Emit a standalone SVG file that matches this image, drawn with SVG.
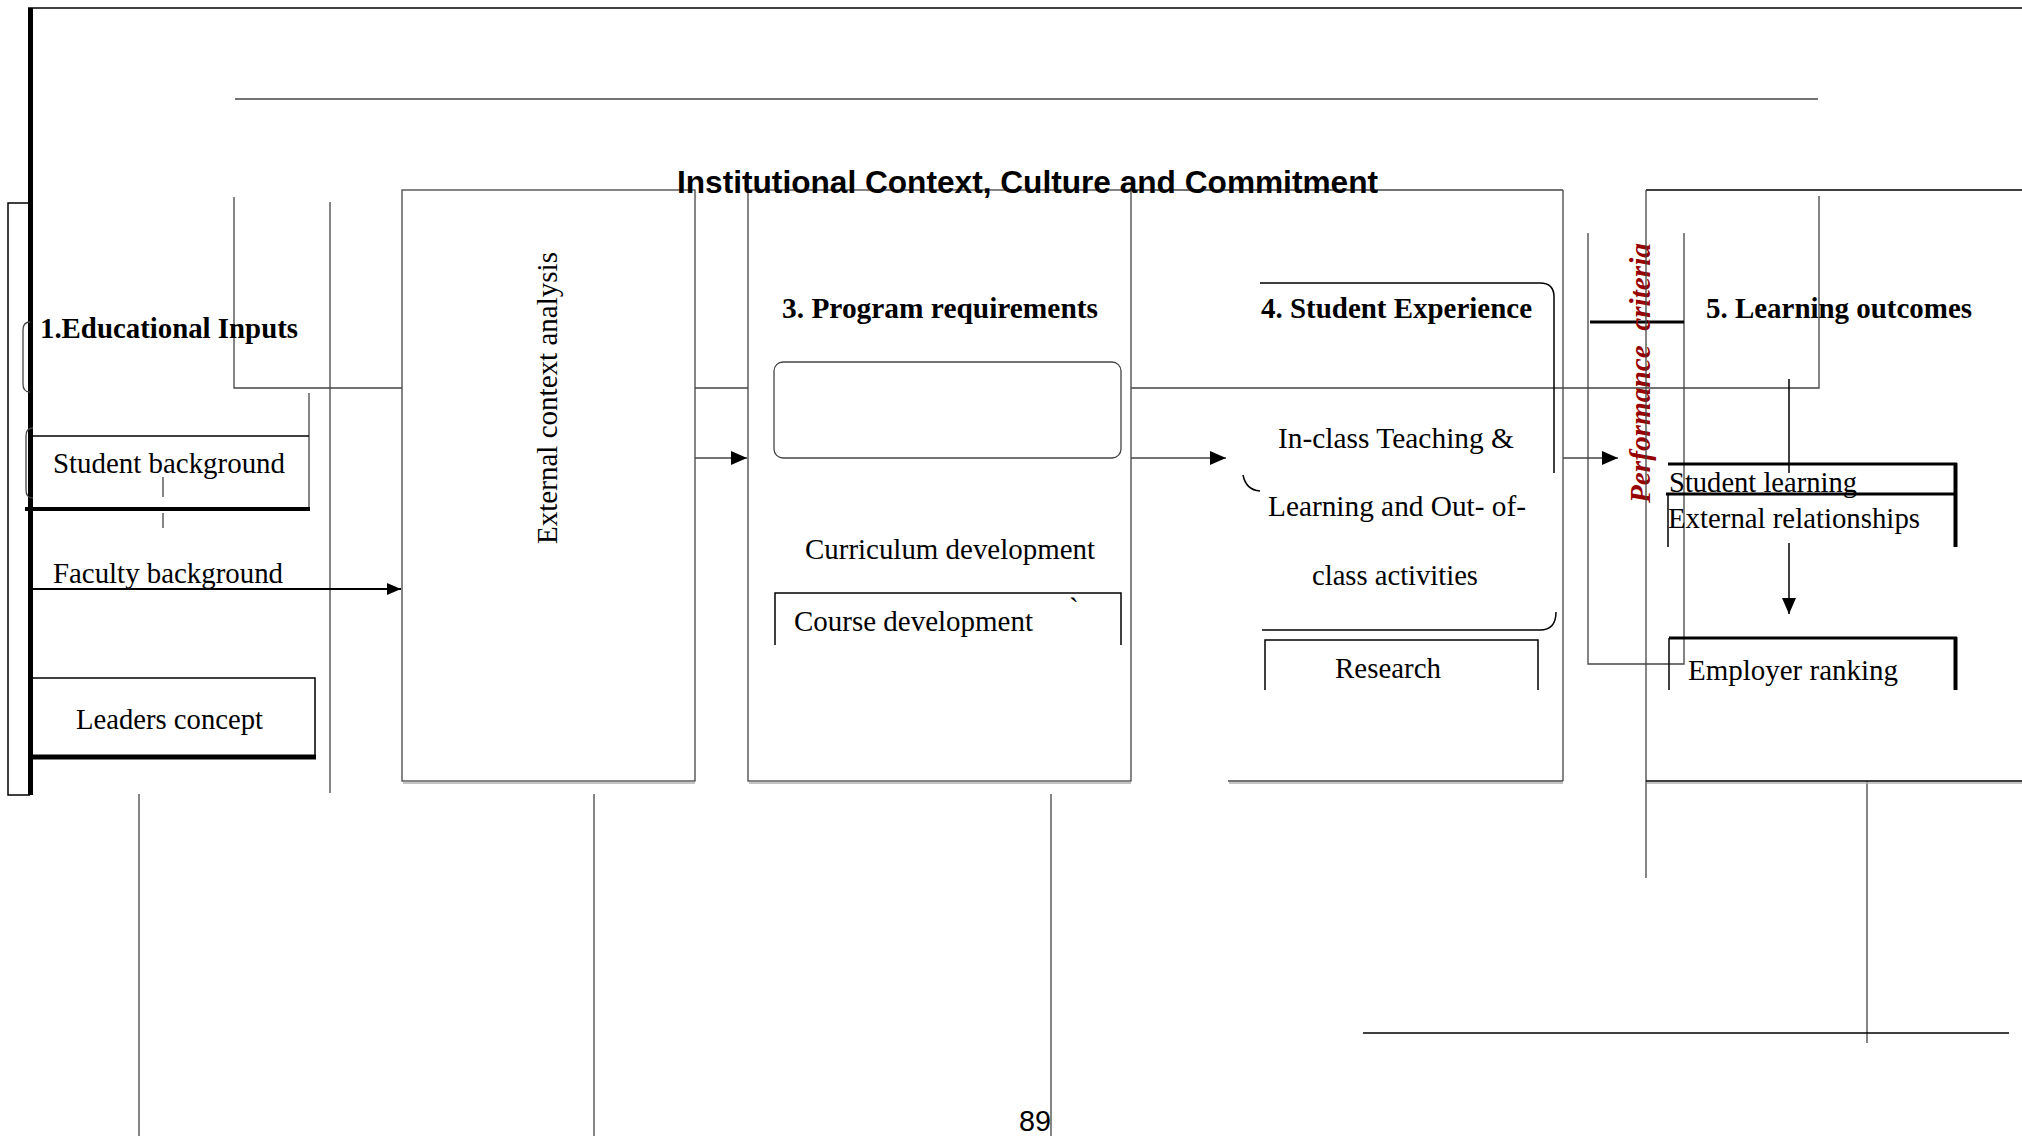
<svg xmlns="http://www.w3.org/2000/svg" width="2022" height="1136" viewBox="0 0 2022 1136">
  <style>
    .bg { fill: #ffffff; }
    .thin { fill: none; stroke: #444; stroke-width: 1.3; }
    .ink { fill: none; stroke: #000; stroke-width: 1.5; }
    .heavy { fill: none; stroke: #000; stroke-width: 4; }
    .shade { fill: none; stroke: #b0b0b0; stroke-width: 1.5; }
    .box { fill: #ffffff; stroke: #444; stroke-width: 1.3; }
    .t { font-family: "Liberation Serif", "Times New Roman", serif; font-size: 29px; fill: #000; }
    .b { font-family: "Liberation Serif", "Times New Roman", serif; font-size: 29px; font-weight: bold; fill: #000; }
    .title { font-family: "Liberation Sans", Arial, sans-serif; font-size: 31px; font-weight: bold; fill: #000; }
    .crit { font-family: "Liberation Serif", "Times New Roman", serif; font-size: 29px; font-weight: bold; font-style: italic; fill: #960000; }
    .pg { font-family: "Liberation Sans", Arial, sans-serif; font-size: 29px; fill: #000; }
  </style>
  <defs>
    <marker id="head" markerWidth="16" markerHeight="14" refX="16" refY="7" orient="auto" markerUnits="userSpaceOnUse">
      <path d="M0,0 L16,7 L0,14 z" fill="#000"/>
    </marker>
    <marker id="headS" markerWidth="14" markerHeight="12" refX="14" refY="6" orient="auto" markerUnits="userSpaceOnUse">
      <path d="M0,0 L14,6 L0,12 z" fill="#000"/>
    </marker>
  </defs>

  <rect class="bg" x="0" y="0" width="2022" height="1136"/>

  <!-- page frame and guide lines -->
  <g id="frame">
    <line class="ink" x1="28" y1="8" x2="2022" y2="8"/>
    <line x1="30.5" y1="8" x2="30.5" y2="795" stroke="#000" stroke-width="5"/>
    <path class="ink" d="M28,203 H8 V795 H30"/>
    <line class="thin" x1="235" y1="99" x2="1818" y2="99" stroke-width="1.8"/>
    <path class="thin" d="M234,197 V388 H1819 V196"/>
    <line class="thin" x1="330" y1="202" x2="330" y2="793"/>
    <line class="thin" x1="139" y1="794" x2="139" y2="1136"/>
    <line class="thin" x1="594" y1="794" x2="594" y2="1136"/>
    <line class="thin" x1="1051" y1="794" x2="1051" y2="1136"/>
    <line class="thin" x1="1867" y1="781" x2="1867" y2="1043"/>
    <line class="ink" x1="1363" y1="1033" x2="2009" y2="1033" stroke-width="2"/>
  </g>

  <!-- 1. Educational inputs -->
  <g id="educational-inputs">
    <path class="thin" d="M30,322 Q23,322 23,330 V384 Q23,392 30,392"/>
    <text class="b" x="40" y="338" textLength="258" lengthAdjust="spacingAndGlyphs">1.Educational Inputs</text>
  </g>

  <g id="student-background">
    <line class="thin" x1="309" y1="393" x2="309" y2="510"/>
    <line class="ink" x1="33" y1="436" x2="309" y2="436" stroke-width="1.3"/>
    <path class="thin" d="M33,428 Q26,428 26,436 V490 Q26,498 33,498"/>
    <line class="heavy" x1="25" y1="509" x2="310" y2="509"/>
    <text class="t" x="53" y="473" textLength="232" lengthAdjust="spacingAndGlyphs">Student background</text>
    <line class="thin" x1="163" y1="477" x2="163" y2="497"/>
    <line class="thin" x1="163" y1="513" x2="163" y2="528"/>
  </g>

  <g id="faculty-background">
    <text class="t" x="53" y="583" textLength="230" lengthAdjust="spacingAndGlyphs">Faculty background</text>
  </g>

  <g id="leaders-concept">
    <path class="ink" d="M33,678 H315 V757" stroke-width="1.3"/>
    <line x1="33" y1="757" x2="316" y2="757" stroke="#000" stroke-width="5"/>
    <text class="t" x="76" y="729" textLength="187" lengthAdjust="spacingAndGlyphs">Leaders concept</text>
  </g>

  <!-- 2. External context analysis -->
  <g id="external-context">
    <rect class="box" x="402" y="190" width="293" height="591"/>
    <line class="shade" x1="403" y1="783" x2="695" y2="783"/>
    <text class="t" transform="translate(557,544) rotate(-90)" textLength="292" lengthAdjust="spacingAndGlyphs">External context analysis</text>
  </g>

  <!-- 3. Program requirements -->
  <g id="program-requirements">
    <rect class="box" x="748" y="190" width="383" height="591"/>
    <line class="shade" x1="749" y1="783" x2="1131" y2="783"/>
    <text class="b" x="782" y="318" textLength="316" lengthAdjust="spacingAndGlyphs">3. Program requirements</text>
    <rect class="thin" x="774" y="362" width="347" height="96" rx="9" ry="9"/>
    <text class="t" x="805" y="559" textLength="290" lengthAdjust="spacingAndGlyphs">Curriculum development</text>
    <path class="ink" d="M775,645 V593 H1121 V645" stroke-width="1.3"/>
    <text class="t" x="794" y="631" textLength="239" lengthAdjust="spacingAndGlyphs">Course development</text>
    <text class="t" x="1069" y="618" font-size="18">`</text>
  </g>

  <!-- 4. Student experience -->
  <g id="student-experience">
    <line class="thin" x1="1131" y1="190" x2="1563" y2="190"/>
    <line class="thin" x1="1563" y1="190" x2="1563" y2="781"/>
    <line class="thin" x1="1228" y1="781" x2="1563" y2="781"/>
    <line class="shade" x1="1229" y1="783" x2="1563" y2="783"/>
    <path class="ink" d="M1260,283 H1540 Q1554,283 1554,297 V473" stroke-width="1.2"/>
    <path class="ink" d="M1243,475 Q1246,490 1260,491" stroke-width="1.2"/>
    <path class="ink" d="M1556,612 Q1556,630 1540,630 H1262" stroke-width="1.2"/>
    <text class="b" x="1261" y="318" textLength="271" lengthAdjust="spacingAndGlyphs">4. Student Experience</text>
    <text class="t" x="1278" y="448" textLength="236" lengthAdjust="spacingAndGlyphs">In-class Teaching &amp;</text>
    <text class="t" x="1268" y="516" textLength="258" lengthAdjust="spacingAndGlyphs">Learning and Out- of-</text>
    <text class="t" x="1312" y="585" textLength="166" lengthAdjust="spacingAndGlyphs">class activities</text>
    <path class="ink" d="M1265,690 V640 H1538 V690" stroke-width="1.3"/>
    <text class="t" x="1335" y="678" textLength="106" lengthAdjust="spacingAndGlyphs">Research</text>
  </g>

  <!-- performance criteria band -->
  <g id="performance-criteria">
    <path class="thin" d="M1588,233 V664 H1684 V233"/>
    <line x1="1590" y1="322" x2="1684" y2="322" stroke="#000" stroke-width="3"/>
    <text class="crit" transform="translate(1650,503) rotate(-90)" xml:space="preserve" textLength="260" lengthAdjust="spacingAndGlyphs">Performance  criteria</text>
  </g>

  <!-- 5. Learning outcomes -->
  <g id="learning-outcomes">
    <line class="ink" x1="1646" y1="190" x2="2022" y2="190" stroke-width="1.3"/>
    <line class="thin" x1="1646" y1="190" x2="1646" y2="878"/>
    <line class="ink" x1="1646" y1="781" x2="2022" y2="781" stroke-width="1.3"/>
    <line class="shade" x1="1647" y1="783" x2="2022" y2="783"/>
    <text class="b" x="1706" y="318" textLength="266" lengthAdjust="spacingAndGlyphs">5. Learning outcomes</text>
  </g>

  <g id="student-learning">
    <line x1="1668" y1="464" x2="1957" y2="464" stroke="#000" stroke-width="3"/>
    <line x1="1666" y1="494" x2="1957" y2="494" stroke="#000" stroke-width="3"/>
    <line x1="1955.5" y1="463" x2="1955.5" y2="547" stroke="#000" stroke-width="4"/>
    <line class="ink" x1="1668" y1="494" x2="1668" y2="547" stroke-width="1.2"/>
    <text class="t" x="1669" y="492" textLength="188" lengthAdjust="spacingAndGlyphs">Student learning</text>
    <text class="t" x="1668" y="528" textLength="252" lengthAdjust="spacingAndGlyphs">External relationships</text>
  </g>

  <g id="employer-ranking">
    <line x1="1669" y1="638" x2="1957" y2="638" stroke="#000" stroke-width="3"/>
    <line x1="1955.5" y1="637" x2="1955.5" y2="690" stroke="#000" stroke-width="4"/>
    <line class="ink" x1="1669" y1="638" x2="1669" y2="690" stroke-width="1.2"/>
    <text class="t" x="1688" y="680" textLength="210" lengthAdjust="spacingAndGlyphs">Employer ranking</text>
  </g>

  <!-- title and page number -->
  <g id="title">
    <text class="title" x="677" y="193" textLength="701" lengthAdjust="spacingAndGlyphs">Institutional Context, Culture and Commitment</text>
  </g>
  <g id="page-number">
    <text class="pg" x="1019" y="1131" textLength="32" lengthAdjust="spacingAndGlyphs">89</text>
  </g>

  <!-- connectors -->
  <g id="connectors">
    <line x1="28" y1="589" x2="401" y2="589" stroke="#000" stroke-width="2" marker-end="url(#headS)"/>
    <line class="thin" x1="695" y1="458" x2="747" y2="458" marker-end="url(#head)"/>
    <line class="thin" x1="1131" y1="458" x2="1226" y2="458" marker-end="url(#head)"/>
    <line class="thin" x1="1563" y1="458" x2="1618" y2="458" marker-end="url(#head)"/>
    <line class="ink" x1="1789" y1="379" x2="1789" y2="473" stroke-width="1.2"/>
    <line class="ink" x1="1789" y1="543" x2="1789" y2="614" stroke-width="1.2" marker-end="url(#head)"/>
  </g>
</svg>
